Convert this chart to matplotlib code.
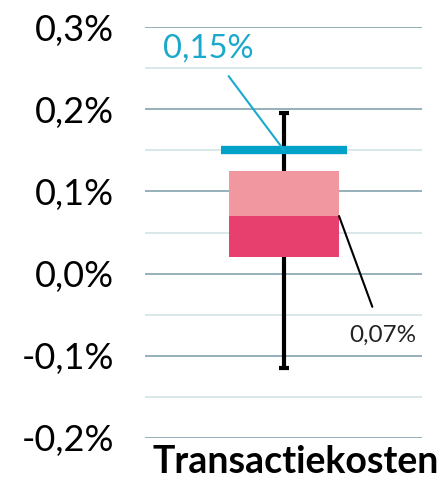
import matplotlib
matplotlib.use("Agg")
import matplotlib.pyplot as plt
from matplotlib.ticker import FuncFormatter, MultipleLocator

# box-and-whisker values (in %)
category = "Transactiekosten"
whisker_low, whisker_high = -0.115, 0.195
box_low, box_mid, box_high = 0.02, 0.07, 0.125
marker_value = 0.15
marker_label = "0,15%"
mid_label = "0,07%"

PINK_DARK, PINK_LIGHT, BLUE = "#e8406e", "#f0979f", "#00a3c7"
GRID_MAJOR, GRID_MINOR = "#8eaab4", "#d8e6e8"

plt.rcParams["font.family"] = ["Lato", "DejaVu Sans"]

fig = plt.figure(figsize=(4.41, 4.84), dpi=100)
ax = fig.add_axes([145 / 441, 46 / 484, 277 / 441, 411 / 484])

xc, bw = 0.502, 0.397
ax.vlines(xc, whisker_low, whisker_high, color="black", lw=3, zorder=2)
ax.hlines([whisker_low, whisker_high], xc - 0.018, xc + 0.018, color="black", lw=3, zorder=2)
ax.bar(xc, box_mid - box_low, bottom=box_low, width=bw, color=PINK_DARK, zorder=3)
ax.bar(xc, box_high - box_mid, bottom=box_mid, width=bw, color=PINK_LIGHT, zorder=3)
ax.hlines(marker_value, xc - 0.226, xc + 0.226, color=BLUE, lw=6, zorder=4)

ax.annotate(marker_label, xy=(xc, marker_value), xytext=(0.227, 0.274),
            ha="center", va="center", fontsize=23.5, color="#1aa9cc",
            arrowprops=dict(arrowstyle="-", color="#1aa9cc", lw=1.5,
                            shrinkA=9, shrinkB=0), zorder=5)
ax.annotate(mid_label, xy=(xc + bw / 2, box_mid), xytext=(0.859, -0.0756),
            ha="center", va="center", fontsize=17.5, color="#222222",
            arrowprops=dict(arrowstyle="-", color="black", lw=1.5,
                            shrinkA=12, shrinkB=0), zorder=5)

ax.set_xlim(0, 1)
ax.set_ylim(-0.2, 0.3)
ax.yaxis.set_major_locator(MultipleLocator(0.1))
ax.yaxis.set_minor_locator(MultipleLocator(0.05))
ax.yaxis.set_major_formatter(FuncFormatter(lambda v, _: f"{v:.1f}%".replace(".", ",")
                                           .replace("-0,0", "0,0")))
ax.grid(axis="y", which="major", color=GRID_MAJOR, lw=1.3, zorder=0)
ax.grid(axis="y", which="minor", color=GRID_MINOR, lw=1.3, zorder=0)
ax.set_axisbelow(True)
ax.tick_params(axis="y", which="both", length=0, labelsize=26, pad=22)
ax.set_xticks([])
for s in ax.spines.values():
    s.set_visible(False)

ax.text(295.5 / 441, 5 / 484, category, transform=fig.transFigure, ha="center",
        va="bottom", fontsize=27, fontweight="bold")

fig.savefig("out.png", dpi=100)
